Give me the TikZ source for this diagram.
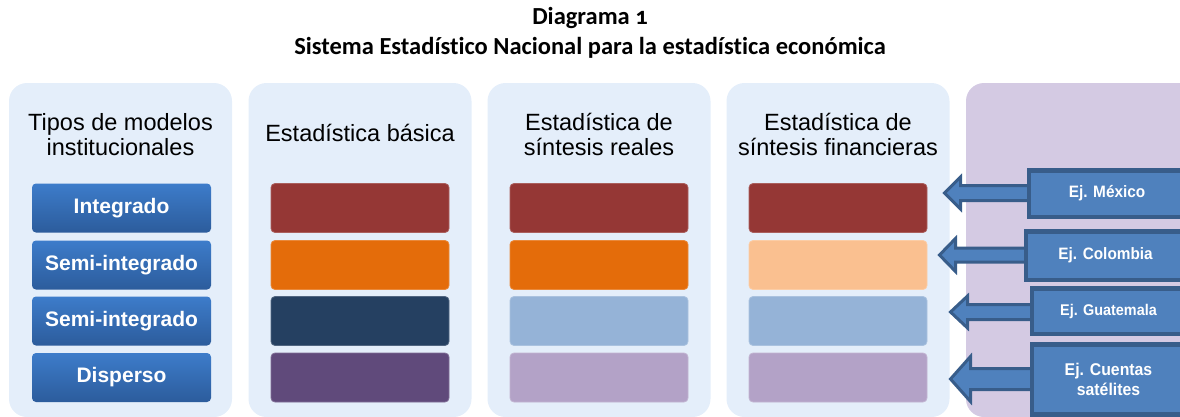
\documentclass[tikz,border=0pt]{standalone}
\usepackage{fontspec}
\setmainfont{Liberation Sans}
\newfontfamily\titlefont{Carlito}[Numbers=OldStyle,Ligatures=NoCommon]
\newfontfamily\narrowfont{Liberation Sans}[FakeStretch=0.93]
\definecolor{panelblue}{HTML}{E4EEFA}
\definecolor{panelviolet}{HTML}{D4CAE3}
\definecolor{btop}{HTML}{3D7CCA}
\definecolor{bbot}{HTML}{2C5C9C}
\definecolor{cred}{HTML}{953735}
\definecolor{corange}{HTML}{E46C0A}
\definecolor{cnavy}{HTML}{254061}
\definecolor{cpurple}{HTML}{604A7B}
\definecolor{clblue}{HTML}{95B3D7}
\definecolor{clviolet}{HTML}{B3A2C7}
\definecolor{cpeach}{HTML}{FAC090}
\definecolor{exfill}{HTML}{4F81BD}
\definecolor{exline}{HTML}{385D8A}
\begin{document}
\begin{tikzpicture}[x=1pt,y=-1pt,
  panel/.style={fill=#1,rounded corners=18pt,minimum width=223pt,minimum height=334pt,inner sep=0pt,outer sep=0pt},
  ptitle/.style={align=center,font=\fontsize{23.5}{25.5}\selectfont,text=black,inner sep=0pt},
  bluebox/.style={top color=btop,bottom color=bbot,rounded corners=4pt,minimum width=179pt,minimum height=49pt,inner sep=0pt,text=white,font=\fontsize{21}{23}\selectfont\bfseries},
  cbox/.style={fill=#1,draw=#1!80!white,line width=0.8pt,rounded corners=4pt,minimum width=178pt,minimum height=49pt,inner sep=0pt},
  exbox/.style={fill=exfill,draw=exline,line width=4.5pt,inner sep=0pt,text=white,align=center},
  exarrow/.style={fill=exfill,draw=exline,line width=3pt,line join=miter},
]
\useasboundingbox (0,0) rectangle (1180,416);
\clip (0,0) rectangle (1180,416);
% title
\node[font=\titlefont\bfseries\fontsize{24.5}{30}\selectfont,align=center,inner sep=0pt] (title) at (590,33) {Diagrama 1\\Sistema Estadístico Nacional para la estadística económica};
% panels
\node[panel=panelblue] (p1) at (120.5,250) {};
\node[panel=panelblue] (p2) at (360,250) {};
\node[panel=panelblue] (p3) at (599,250) {};
\node[panel=panelblue] (p4) at (838,250) {};
\node[panel=panelviolet,minimum width=240pt] (p5) at (1086,250) {};
% panel titles
\node[ptitle] (t1) at (120.5,134.5) {Tipos de modelos\\institucionales};
\node[ptitle] (t2) at (360,133) {Estadística básica};
\node[ptitle] (t3) at (599,134.5) {Estadística de\\síntesis reales};
\node[ptitle] (t4) at (838,134.5) {Estadística de\\síntesis financieras};
% blue boxes
\node[bluebox] (b1) at (121.5,208) {Integrado};
\node[bluebox] (b2) at (121.5,265) {Semi-integrado};
\node[bluebox] (b3) at (121.5,321) {Semi-integrado};
\node[bluebox] (b4) at (121.5,377.5) {Disperso};
% coloured boxes
\node[cbox=cred] (c21) at (360,208) {};
\node[cbox=corange] (c22) at (360,265) {};
\node[cbox=cnavy] (c23) at (360,321) {};
\node[cbox=cpurple] (c24) at (360,377.5) {};
\node[cbox=cred] (c31) at (599,208) {};
\node[cbox=corange] (c32) at (599,265) {};
\node[cbox=clblue] (c33) at (599,321) {};
\node[cbox=clviolet] (c34) at (599,377.5) {};
\node[cbox=cred] (c41) at (838,208) {};
\node[cbox=cpeach] (c42) at (838,265) {};
\node[cbox=clblue] (c43) at (838,321) {};
\node[cbox=clviolet] (c44) at (838,377.5) {};
% arrows
\coordinate (a1) at (944.5,193);
\coordinate (a2) at (939.5,255);
\coordinate (a3) at (950.5,312);
\coordinate (a4) at (950.5,379);
\draw[exarrow] (a1) -- ++(16,-16) -- ++(0,8.5) -- ++(80,0) -- ++(0,15) -- ++(-80,0) -- ++(0,8.5) -- cycle;
\draw[exarrow] (a2) -- ++(16,-16.5) -- ++(0,9.5) -- ++(80,0) -- ++(0,14) -- ++(-80,0) -- ++(0,9.5) -- cycle;
\draw[exarrow] (a3) -- ++(17,-16) -- ++(0,8.5) -- ++(80,0) -- ++(0,15) -- ++(-80,0) -- ++(0,8.5) -- cycle;
\draw[exarrow] (a4) -- ++(20,-22.5) -- ++(0,12) -- ++(80,0) -- ++(0,21) -- ++(-80,0) -- ++(0,12) -- cycle;
% example boxes
\node[exbox,minimum width=156pt,minimum height=46.5pt,font=\narrowfont\bfseries\fontsize{16.5}{19}\selectfont] (r1) at (1107,193.5) {Ej. México};
\node[exbox,minimum width=159pt,minimum height=48.5pt,font=\narrowfont\bfseries\fontsize{16.5}{19}\selectfont] (r2) at (1105.5,255.5) {Ej. Colombia};
\node[exbox,minimum width=153pt,minimum height=45.5pt,font=\narrowfont\bfseries\fontsize{15.5}{19}\selectfont] (r3) at (1108.5,311) {Ej. Guatemala};
\node[exbox,minimum width=153pt,minimum height=70pt,font=\narrowfont\bfseries\fontsize{17}{19.5}\selectfont] (r4) at (1108.5,379.5) {Ej. Cuentas\\satélites};
\end{tikzpicture}
\end{document}
